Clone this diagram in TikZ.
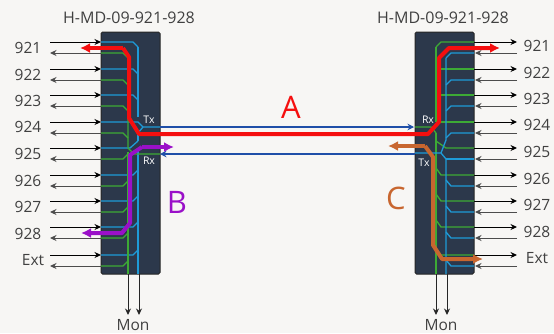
\documentclass[tikz,border=0pt]{standalone}
\usepackage{fontspec}
\setmainfont{Open Sans}
\usetikzlibrary{arrows.meta}
\definecolor{bgc}{HTML}{F7F6F4}
\definecolor{boxc}{HTML}{2C384B}
\definecolor{fib}{HTML}{1E9BD8}
\definecolor{fig}{HTML}{3DAA35}
\definecolor{linkb}{HTML}{1F4FA8}
\definecolor{redc}{HTML}{F50F0F}
\definecolor{purc}{HTML}{9A10C8}
\definecolor{orac}{HTML}{C8662F}
\definecolor{txtc}{HTML}{404040}
\tikzset{
  x=1pt,y=-1pt,
  unit/.style={draw=black!85,fill=boxc,line width=1pt,rounded corners=1.5pt,minimum width=59pt,minimum height=242pt,inner sep=0pt},
  lbl/.style={text=txtc,font=\fontsize{15.5}{17}\selectfont,inner sep=0pt},
  ttl/.style={text=txtc,font=\fontsize{16}{18}\selectfont,inner sep=0pt},
  small/.style={text=white,font=\fontsize{10.5}{12}\selectfont,inner sep=0pt},
  big/.style={font=\fontsize{31}{34}\selectfont,inner sep=0pt},
  blu/.style={fib,line width=1.3pt},
  grn/.style={fig,line width=1.3pt},
  stub/.style={line width=1pt,-{Stealth[length=6.5pt,width=6pt]}},
  path/.style={line width=4pt,line join=round,-{Latex[length=10pt,width=10pt]}},
  hl/.style={line width=4pt,line join=round},
  link/.style={linkb,line width=1.6pt,-{Stealth[length=6.5pt,width=6.5pt]}}
}
\begin{document}
\begin{tikzpicture}
\useasboundingbox[fill=bgc] (0,0) rectangle (554,333);
\node[unit] (LB) at (130.5,153) {};
\node[unit] (RB) at (444.5,153) {};
\node[ttl] (LT) at (129,18) {H-MD-09-921-928};
\node[ttl] (RT) at (443,18) {H-MD-09-921-928};

% rows
\foreach \n/\a/\b/\ly/\lx/\t in {1/42/53/48/28/921,2/69/80/75/28/922,3/95/106/101/28/923,4/122/133/127/28/924,5/148/159/154/28/925,6/175/186/181/28/926,7/201/212/207/28/927,8/227/238/234/28/928,9/255/266/260/33/Ext}{
  \coordinate (La\n) at (50,\a); \coordinate (Laa\n) at (101,\a);
  \coordinate (Lb\n) at (101,\b); \coordinate (Lbb\n) at (50,\b);
  \coordinate (Ra\n) at (474,\a); \coordinate (Raa\n) at (517,\a);
  \coordinate (Rb\n) at (517,\b); \coordinate (Rbb\n) at (475,\b);
  \draw[stub,black] (La\n) -- (Laa\n);
  \draw[stub,black!70] (Lb\n) -- (Lbb\n);
  \draw[stub,black] (Ra\n) -- (Raa\n);
  \draw[stub,black!70] (Rb\n) -- (Rbb\n);
  \node[lbl] (LL\n) at (\lx,\ly) {\t};
  \node[lbl] (RL\n) at (537,\ly-2) {\t};
}

% left internals
\draw[blu] (138,47) -- (138,117) (138,133) -- (138,141) (138,148) -- (138,274);
\foreach \a in {42,69,95}{\draw[blu] (101,\a) -- (133,\a) -- (138,\a+5);}
\draw[blu] (101,122) -- (138,122) -- (143,127) -- (160,127);
\draw[blu] (138,133) -- (143,127);
\draw[blu] (101,148) -- (130,148) -- (138,141);
\foreach \a in {175,201,227,255}{\draw[blu] (101,\a) -- (133,\a) -- (138,\a-5);}
\draw[grn] (128,58) -- (128,148) -- (134,154) -- (160,154);
\draw[grn] (128,152) -- (128,274);
\foreach \b in {53,80,106,133}{\draw[grn] (101,\b) -- (123,\b) -- (128,\b+5);}
\foreach \b in {159,186,212,238,266}{\draw[grn] (101,\b) -- (123,\b) -- (128,\b-5);}

% right internals
\draw[grn] (436,47) -- (436,122) (436,133) -- (436,274);
\draw[grn] (415,127) -- (431,127) -- (436,133);
\draw[grn] (474,42) -- (441,42) -- (436,47);
\foreach \a in {69,95,122}{\draw[grn] (474,\a) -- (436,\a);}
\draw[grn] (474,148) -- (446,148) -- (436,141);
\foreach \a in {175,201,227,255}{\draw[grn] (474,\a) -- (441,\a) -- (436,\a-7);}
\draw[blu] (446,58) -- (446,140) -- (441,153) -- (415,153);
\draw[blu] (441,153) -- (446,159) -- (446,274);
\draw[blu] (474,159) -- (446,159);
\foreach \b in {53,80,106,133}{\draw[blu] (474,\b) -- (451,\b) -- (446,\b+5);}
\foreach \b in {186,212,238,266}{\draw[blu] (474,\b) -- (451,\b) -- (446,\b-6);}

% links
\coordinate (LTx) at (160,127); \coordinate (RRx) at (414,127);
\coordinate (RTx) at (415,154); \coordinate (LRx) at (160,154);
\draw[link] (LTx) -- (RRx);
\draw[link] (RTx) -- (LRx);

% monitor
\coordinate (M1) at (128,274); \coordinate (M1e) at (128,315);
\coordinate (M2) at (139,274); \coordinate (M2e) at (139,315);
\coordinate (M3) at (436,274); \coordinate (M3e) at (436,315);
\coordinate (M4) at (447,274); \coordinate (M4e) at (447,315);
\foreach \m in {1,2,3,4}{\draw[stub,black!85] (M\m) -- (M\m e);}
\node[lbl] (MonL) at (133,325) {Mon};
\node[lbl] (MonR) at (441,325) {Mon};

% highlighted paths
\draw[path,redc] (123,48) -- (80,48);
\draw[hl,redc] (123,48) -- (129,57) -- (129,118) -- (139,134) -- (428,134) -- (439,122) -- (439,58) -- (449,48) -- (490,48);
\draw[path,redc] (489,48) -- (500,48);
\draw[path,purc] (142,147) -- (174,147);
\draw[hl,purc] (142,147) -- (130,155) -- (130,223) -- (122,233) -- (90,233);
\draw[path,purc] (92,233) -- (81,233);
\draw[path,orac] (425,146) -- (388,146);
\draw[hl,orac] (425,146) -- (433,157) -- (433,245) -- (442,259) -- (472,259);
\draw[path,orac] (470,259) -- (483,259);

% labels
\node[small] (TxL) at (149,120) {Tx};
\node[small] (RxL) at (149,161) {Rx};
\node[small] (RxR) at (428,120) {Rx};
\node[small] (TxR) at (424,163) {Tx};
\node[big,text=redc] (A) at (291,107) {A};
\node[big,text=purc] (B) at (177,202) {B};
\node[big,text=orac] (C) at (396,198) {C};
\end{tikzpicture}
\end{document}
